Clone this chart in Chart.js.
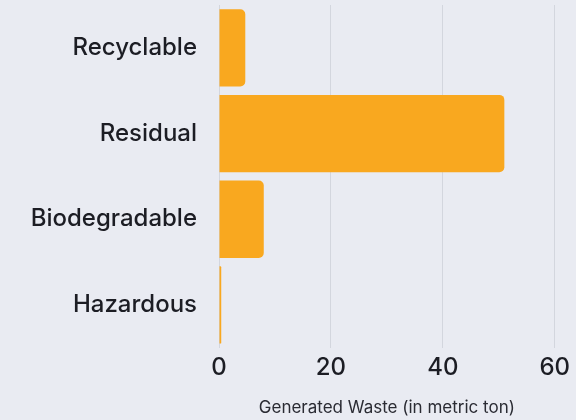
<!DOCTYPE html>
<html>
<head>
<meta charset="utf-8">
<script src="https://cdn.jsdelivr.net/npm/chart.js@4.4.1/dist/chart.umd.min.js"></script>
<style>
  html, body { margin: 0; padding: 0; background: #e9ebf2; }
  #wrap { width: 576px; height: 420px; position: relative; }
</style>
</head>
<body>
<div id="wrap"><canvas id="wasteChart"></canvas></div>
<script>
// waste categories and amounts (metric ton)
const categories = ["Recyclable", "Residual", "Biodegradable", "Hazardous"];
const wasteTons = [4.7, 51.0, 8.0, 0.4];
const xTicks = [0, 20, 40, 60];

const labelFont = "'Inter', 'Lato', sans-serif";

const data = {
  labels: categories,
  datasets: [
    {
      label: "Generated Waste",
      data: wasteTons,
      backgroundColor: "#f9a81f",
      borderRadius: 5,
      borderSkipped: "start",
      barPercentage: 0.95,
      categoryPercentage: 0.95,
    },
  ],
};

const options = {
  indexAxis: "y",
  responsive: true,
  maintainAspectRatio: false,
  animation: false,
  layout: {
    padding: { top: 5, right: 10, bottom: 2, left: 0 },
  },
  plugins: {
    legend: { display: false },
    tooltip: { enabled: false },
  },
  scales: {
    x: {
      min: 0,
      max: 60,
      afterBuildTicks: (axis) => {
        axis.ticks = xTicks.map((v) => ({ value: v }));
      },
      grid: {
        color: "#d3d6de",
        drawTicks: false,
      },
      border: { display: false },
      ticks: {
        color: "#1c1d24",
        padding: 6,
        font: { family: labelFont, size: 24, weight: "500" },
      },
      title: {
        display: true,
        text: "Generated Waste (in metric ton)",
        color: "#2a2b33",
        padding: { top: 9, bottom: 0 },
        font: { family: labelFont, size: 17 },
      },
    },
    y: {
      grid: { display: false, drawTicks: false },
      border: { display: false },
      ticks: {
        color: "#1c1d24",
        padding: 22,
        font: { family: labelFont, size: 24, weight: "500" },
      },
      // fixed label column, no extra room above the first bar
      afterFit: (axis) => {
        axis.width = 219;
        axis.paddingTop = 0;
        axis.paddingBottom = 0;
      },
    },
  },
};

var ctx = document.getElementById("wasteChart").getContext("2d");
var wasteChart = new Chart(ctx, {
  type: "bar",
  data: data,
  options: options,
});
</script>
</body>
</html>
